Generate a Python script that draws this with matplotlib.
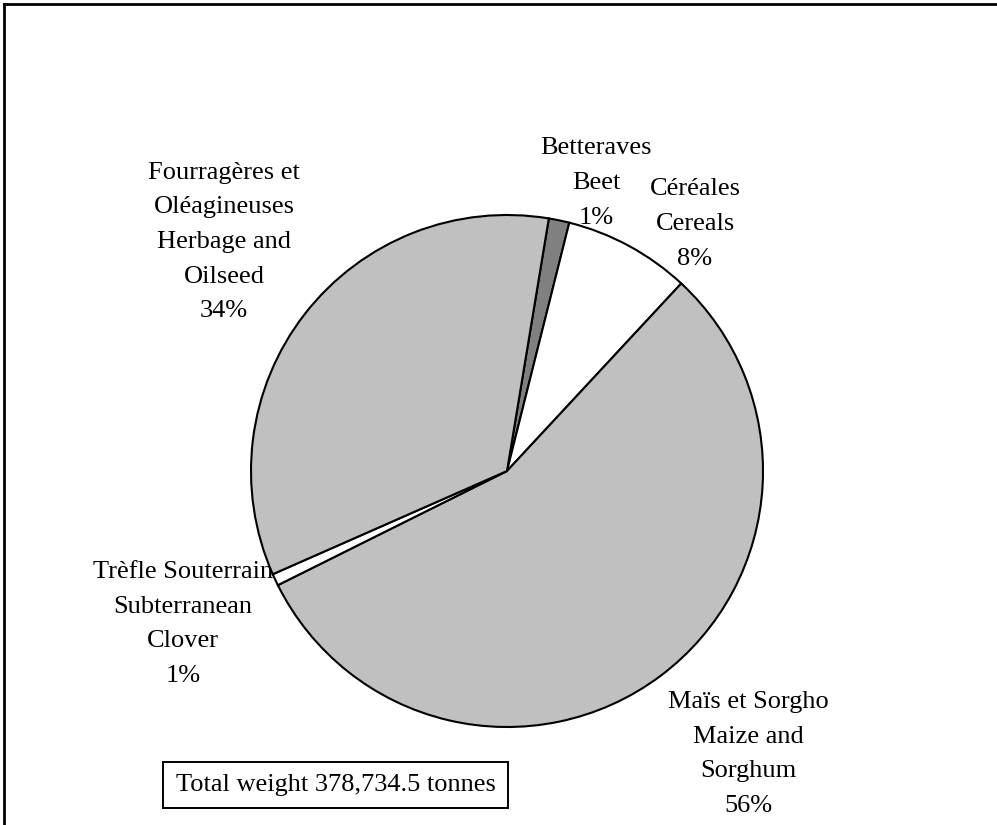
import matplotlib.pyplot as plt
from matplotlib.patches import Rectangle
from matplotlib.lines import Line2D

# Shares of total weight (%), clockwise from the top
categories = ['Betteraves\nBeet', 'Céréales\nCereals', 'Maïs et Sorgho\nMaize and\nSorghum',
              'Trèfle Souterrain\nSubterranean\nClover', 'Fourragères et\nOléagineuses\nHerbage and\nOilseed']
shares = [1.3, 8.0, 55.7, 0.75, 34.2]
colors = ['#808080', '#FFFFFF', '#C0C0C0', '#FFFFFF', '#C0C0C0']
total_text = 'Total weight 378,734.5 tonnes'

W, H = 997, 825
# label centres in pixels (x, y from top)
label_px = [(596, 183), (695, 224), (748, 754), (183, 624), (224, 242)]

plt.rcParams['font.family'] = ['Liberation Serif', 'DejaVu Serif']

fig = plt.figure(figsize=(W / 100, H / 100), dpi=100)
fig.patch.set_facecolor('white')

cx, cy, r = 507, 471, 256
ax = fig.add_axes([(cx - r) / W, (H - cy - r) / H, 2 * r / W, 2 * r / H])
ax.pie(shares, colors=colors, startangle=80.6, counterclock=False,
       wedgeprops=dict(edgecolor='black', linewidth=1.5))
ax.set_xlim(-1, 1)
ax.set_ylim(-1, 1)
ax.set_aspect('equal')
ax.axis('off')

for name, val, (px, py) in zip(categories, shares, label_px):
    fig.text(px / W, 1 - py / H, f'{name}\n{val:.0f}%', ha='center', va='center',
             multialignment='center', fontsize=19, linespacing=1.74)

# total weight box
bx0, by0, bx1, by1 = 163, 762, 508, 808
fig.patches.append(Rectangle((bx0 / W, 1 - by1 / H), (bx1 - bx0) / W, (by1 - by0) / H,
                             transform=fig.transFigure, facecolor='white',
                             edgecolor='black', linewidth=1.4))
fig.text((bx0 + bx1) / 2 / W, 1 - (by0 + by1) / 2 / H, total_text,
         ha='center', va='center', fontsize=19)

# chart border (top and left only visible)
fig.add_artist(Line2D([4 / W, 1], [1 - 4 / H, 1 - 4 / H], transform=fig.transFigure,
                      color='black', linewidth=2))
fig.add_artist(Line2D([4 / W, 4 / W], [0, 1 - 4 / H], transform=fig.transFigure,
                      color='black', linewidth=2))

fig.savefig('out.png', dpi=100)
